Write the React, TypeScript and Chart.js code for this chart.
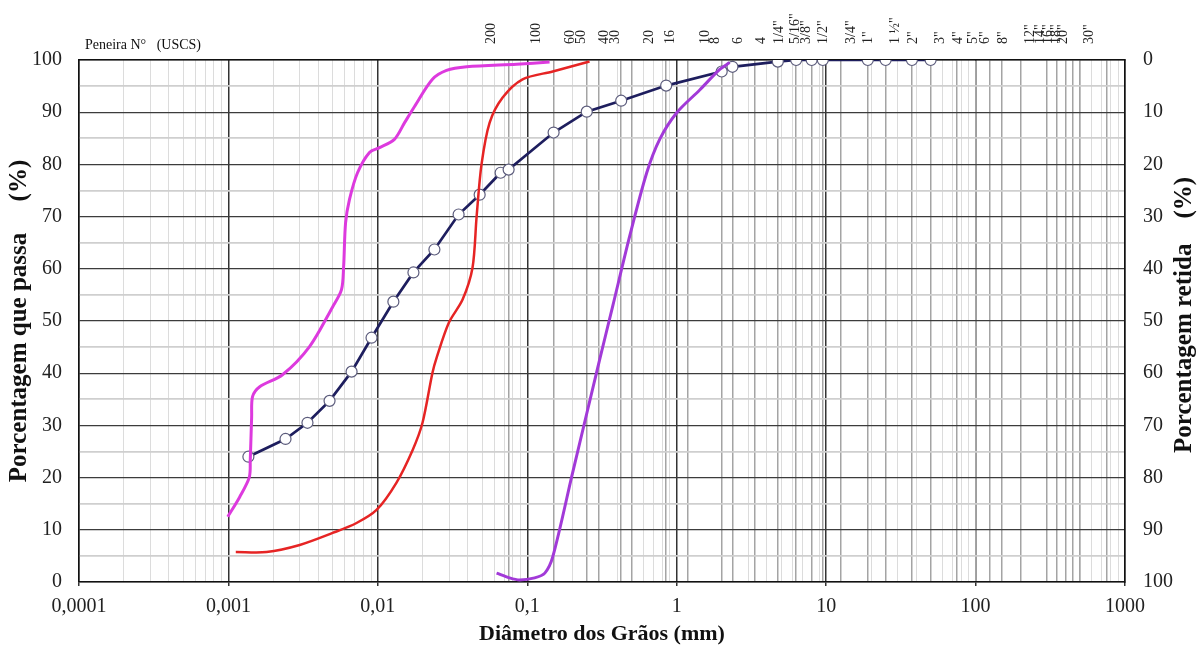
import React, { useEffect, useRef } from 'react';
import { Chart, registerables } from 'chart.js';

Chart.register(...registerables);

const FONT = "'Liberation Serif', 'Times New Roman', serif";

// Grain-size distribution of the tested sample (sieving + sedimentation)
const sampleDiam = [0.00136, 0.00241, 0.00338, 0.00475, 0.00667, 0.00907, 0.0127, 0.0173, 0.0239, 0.0347, 0.048, 0.0663, 0.075, 0.15, 0.25, 0.425, 0.85, 2.0, 2.36, 4.75, 6.3, 8.0, 9.5, 19, 25, 37.5, 50];
const samplePass = [24.0, 27.4, 30.5, 34.7, 40.3, 46.8, 53.7, 59.3, 63.7, 70.4, 74.2, 78.4, 79.0, 86.1, 90.1, 92.2, 95.1, 97.8, 98.7, 99.7, 100, 100, 100, 100, 100, 100, 100];

// Fine envelope (magenta)
const fineDiam = [0.00099, 0.00119, 0.00138, 0.0014, 0.00143, 0.00145, 0.00162, 0.0023, 0.00349, 0.00498, 0.00571, 0.0059, 0.00608, 0.00646, 0.00731, 0.00879, 0.01026, 0.0129, 0.0151, 0.0176, 0.0232, 0.0288, 0.0393, 0.0848, 0.141];
const finePass = [12.5, 16.3, 20.1, 23.4, 31.6, 35.5, 37.4, 39.7, 45.1, 52.7, 56.0, 60.4, 68.8, 73.3, 78.4, 82.3, 83.2, 84.8, 88.0, 91.1, 96.3, 98.0, 98.7, 99.2, 99.6];

// Intermediate envelope (red)
const midDiam = [0.00112, 0.0018, 0.003, 0.00498, 0.0072, 0.0098, 0.0133, 0.0171, 0.0199, 0.0232, 0.0248, 0.0299, 0.0369, 0.043, 0.0458, 0.0494, 0.056, 0.0684, 0.093, 0.148, 0.261];
const midPass = [5.75, 5.75, 7.1, 9.4, 11.3, 13.8, 19.0, 25.3, 30.5, 40.1, 43.1, 49.7, 54.1, 60.2, 70.0, 80.0, 88.0, 92.8, 96.3, 97.8, 99.7];

// Coarse envelope (violet)
const coarseDiam = [0.0623, 0.076, 0.0888, 0.112, 0.131, 0.148, 0.201, 0.305, 0.372, 0.484, 0.63, 0.769, 1.0, 1.43, 1.94, 2.26];
const coarsePass = [1.7, 0.8, 0.4, 0.8, 1.7, 4.8, 20.9, 42.6, 52.7, 66.2, 78.4, 84.8, 89.9, 94.3, 98.2, 99.5];

// Bottom axis decades and their labels
const xDecades = [0.0001, 0.001, 0.01, 0.1, 1, 10, 100, 1000];
const xDecadeLabels = ['0,0001', '0,001', '0,01', '0,1', '1', '10', '100', '1000'];

// Sieve openings (mm) and their designations for the top axis
const sieveSizes = [0.075, 0.15, 0.25, 0.3, 0.425, 0.5, 0.85, 1.18, 2.0, 2.36, 3.35, 4.75, 6.3, 8.0, 9.5, 12.5, 19, 25, 37.5, 50, 75, 100, 125, 150, 200, 300, 350, 400, 450, 500, 750];
const sieveLabels = ['200', '100', '60', '50', '40', '30', '20', '16', '10', '8', '6', '4', '1/4"', '5/16"', '3/8"', '1/2"', '3/4"', '1"', '1 ½"', '2"', '3"', '4"', '5"', '6"', '8"', '12"', '14"', '16"', '18"', '20"', '30"'];

const xTitle = 'Diâmetro dos Grãos (mm)';
const yLeftTitle = 'Porcentagem que passa     (%)';
const yRightTitle = 'Porcentagem retida    (%)';
const sieveCaption = 'Peneira N°   (USCS)';

const pts = (xs: number[], ys: number[]) => xs.map((x, i) => ({ x, y: ys[i] }));
const isDecade = (v: number) => xDecades.some((d) => Math.abs(v / d - 1) < 1e-6);

const extraText = {
  id: 'extraText',
  afterDraw(chart: any) {
    const { ctx, chartArea } = chart;
    ctx.save();
    ctx.fillStyle = '#111';
    ctx.font = `14px ${FONT}`;
    ctx.textAlign = 'left';
    ctx.textBaseline = 'middle';
    ctx.fillText(sieveCaption, chartArea.left + 6, 45);
    // right-hand title reads bottom-to-top
    ctx.translate(1185, (chartArea.top + chartArea.bottom) / 2 - 6);
    ctx.rotate(-Math.PI / 2);
    ctx.font = `bold 25px ${FONT}`;
    ctx.textAlign = 'center';
    ctx.fillText(yRightTitle, 0, 0);
    ctx.restore();
  },
};

export default function App() {
  const ref = useRef<HTMLCanvasElement | null>(null);

  useEffect(() => {
    if (!ref.current) return;
    const chart = new Chart(ref.current, {
      type: 'line',
      data: {
        datasets: [
          {
            label: 'fine',
            data: pts(fineDiam, finePass),
            borderColor: '#dd3ade',
            borderWidth: 3,
            pointRadius: 0,
            tension: 0.3,
          },
          {
            label: 'mid',
            data: pts(midDiam, midPass),
            borderColor: '#e62424',
            borderWidth: 2.5,
            pointRadius: 0,
            tension: 0.3,
          },
          {
            label: 'coarse',
            data: pts(coarseDiam, coarsePass),
            borderColor: '#a23ad8',
            borderWidth: 3,
            pointRadius: 0,
            tension: 0.3,
          },
          {
            label: 'sample',
            data: pts(sampleDiam, samplePass),
            borderColor: '#1e1e5e',
            borderWidth: 2.7,
            pointRadius: 5.5,
            pointBackgroundColor: '#ffffff',
            pointBorderColor: '#5c5c7c',
            pointBorderWidth: 1.2,
            tension: 0,
          },
        ],
      },
      options: {
        animation: false,
        responsive: false,
        events: [],
        layout: { padding: 0 },
        plugins: { legend: { display: false }, tooltip: { enabled: false } },
        scales: {
          x: {
            type: 'logarithmic',
            position: 'bottom',
            min: 0.0001,
            max: 1000,
            afterBuildTicks: (s: any) => {
              const t: { value: number }[] = [];
              for (let i = 0; i < xDecades.length - 1; i++) {
                for (let m = 1; m < 10; m++) t.push({ value: xDecades[i] * m });
              }
              t.push({ value: xDecades[xDecades.length - 1] });
              s.ticks = t;
            },
            afterFit: (s: any) => {
              s.height = 68;
            },
            grid: {
              color: (c: any) => (isDecade(c.tick.value) ? '#333333' : '#dcdcdc'),
              lineWidth: (c: any) => (isDecade(c.tick.value) ? 1.5 : 1),
              drawTicks: true,
              tickLength: 4,
              tickColor: (c: any) => (isDecade(c.tick.value) ? '#333333' : 'rgba(0,0,0,0)'),
            },
            border: { display: true, color: '#111', width: 1.5 },
            ticks: {
              autoSkip: false,
              maxRotation: 0,
              minRotation: 0,
              padding: 9,
              color: '#222',
              font: { family: FONT, size: 20 },
              callback: (v: any) => {
                const i = xDecades.findIndex((d) => Math.abs(Number(v) / d - 1) < 1e-6);
                return i >= 0 ? xDecadeLabels[i] : '';
              },
            },
            title: {
              display: true,
              text: xTitle,
              color: '#111',
              font: { family: FONT, size: 22, weight: 'bold' },
              padding: { top: 0, bottom: 2 },
            },
          },
          x2: {
            type: 'logarithmic',
            position: 'top',
            min: 0.0001,
            max: 1000,
            afterBuildTicks: (s: any) => {
              s.ticks = sieveSizes.map((v) => ({ value: v }));
            },
            afterFit: (s: any) => {
              s.height = 60;
            },
            grid: { color: '#a4a4a4', lineWidth: 1.5, drawTicks: false },
            border: { display: true, color: '#111', width: 1.5 },
            ticks: {
              autoSkip: false,
              minRotation: 90,
              maxRotation: 90,
              padding: 16,
              color: '#222',
              font: { family: FONT, size: 14 },
              callback: (_v: any, i: number) => sieveLabels[i],
            },
          },
          y: {
            type: 'linear',
            position: 'left',
            min: 0,
            max: 100,
            afterFit: (s: any) => {
              s.width = 79;
            },
            grid: {
              color: (c: any) => (c.tick.value % 10 === 0 ? '#3c3c3c' : '#cfcfcf'),
              lineWidth: (c: any) => (c.tick.value % 10 === 0 ? 1.2 : 1.8),
              drawTicks: false,
            },
            border: { display: true, color: '#111', width: 1.5 },
            ticks: {
              autoSkip: false,
              stepSize: 5,
              padding: 17,
              color: '#222',
              font: { family: FONT, size: 20 },
              callback: (v: any) => (Number(v) % 10 === 0 ? String(v) : ''),
            },
            title: {
              display: true,
              text: yLeftTitle,
              color: '#111',
              font: { family: FONT, size: 25, weight: 'bold' },
              padding: { top: 5, bottom: 0 },
            },
          },
          y2: {
            type: 'linear',
            position: 'right',
            min: 0,
            max: 100,
            reverse: true,
            afterFit: (s: any) => {
              s.width = 72;
            },
            grid: { display: false, drawTicks: false },
            border: { display: true, color: '#111', width: 1.5 },
            ticks: {
              autoSkip: false,
              stepSize: 10,
              padding: 18,
              color: '#222',
              font: { family: FONT, size: 20 },
            },
          },
        },
      } as any,
      plugins: [extraText],
    });
    return () => chart.destroy();
  }, []);

  return (
    <div style={{ position: 'fixed', left: 0, top: 0, width: 1197, height: 650, background: '#ffffff' }}>
      <canvas ref={ref} width={1197} height={650} style={{ display: 'block' }} />
    </div>
  );
}
